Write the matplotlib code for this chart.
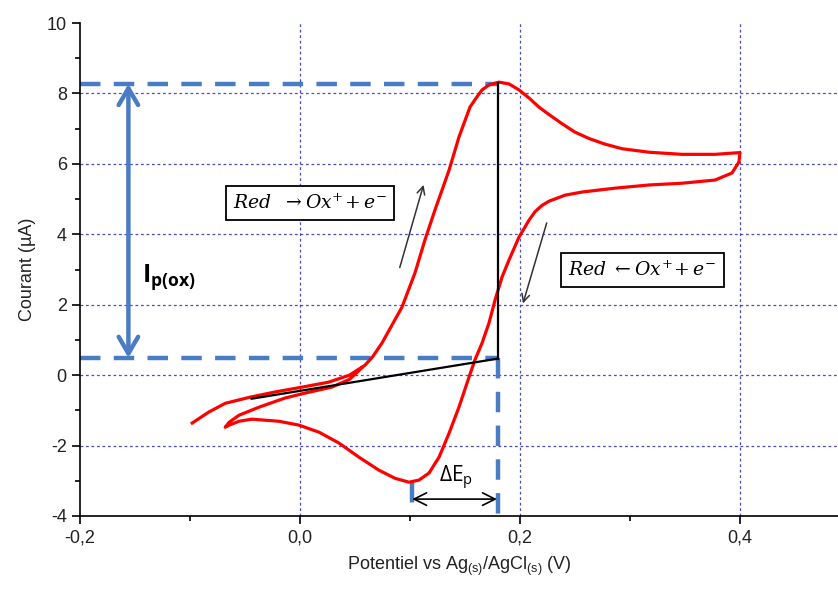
import matplotlib
matplotlib.use("Agg")
import matplotlib.pyplot as plt
from matplotlib.ticker import FixedLocator, FuncFormatter

# Global settings
plt.rcParams['font.family'] = ['Liberation Sans', 'DejaVu Sans']
plt.rcParams['axes.unicode_minus'] = False
plt.rcParams['mathtext.fontset'] = 'custom'
plt.rcParams['mathtext.rm'] = 'Open Sans'
plt.rcParams['mathtext.bf'] = 'Open Sans:bold'
plt.rcParams['mathtext.it'] = 'Open Sans:italic'

# Cyclic voltammogram (E in V, I in uA)
cv_E = [-0.098, -0.083, -0.068, -0.046, -0.023, 0.002, 0.026, 0.045, 0.059, 0.066,
        0.0745, 0.0927, 0.1045, 0.1136, 0.1227, 0.1355, 0.1445, 0.1545, 0.161,
        0.1655, 0.1718, 0.1809, 0.19, 0.1991, 0.2082, 0.2173, 0.2264, 0.2382,
        0.25, 0.2627, 0.2773, 0.2927, 0.3173, 0.3473, 0.3773, 0.400,
        0.399, 0.3927, 0.3773, 0.3473, 0.3173, 0.2864, 0.2564, 0.2409, 0.2264,
        0.22, 0.2136, 0.2082, 0.1991, 0.19, 0.1836, 0.1773, 0.1718, 0.1655, 0.159,
        0.1536, 0.1445, 0.1355, 0.1264, 0.1173, 0.1082, 0.0991, 0.0864, 0.0718,
        0.0536, 0.0355, 0.0173, -0.0009, -0.0191, -0.0436, -0.0555, -0.0645, -0.068,
        -0.0645, -0.0555, -0.0373, -0.0136, 0.0045, 0.029, 0.045, 0.056]
cv_I = [-1.36, -1.05, -0.80, -0.63, -0.48, -0.34, -0.20, 0.0, 0.28, 0.52,
        0.91, 1.93, 2.90, 3.84, 4.69, 5.82, 6.76, 7.61, 7.91,
        8.10, 8.24, 8.32, 8.27, 8.10, 7.87, 7.61, 7.40, 7.14,
        6.90, 6.72, 6.56, 6.43, 6.33, 6.27, 6.27, 6.32,
        6.05, 5.74, 5.54, 5.45, 5.40, 5.31, 5.20, 5.11, 4.94,
        4.82, 4.64, 4.40, 3.92, 3.27, 2.78, 2.13, 1.48, 0.91, 0.43,
        -0.06, -0.91, -1.65, -2.33, -2.78, -2.98, -3.04, -2.93, -2.70,
        -2.33, -1.93, -1.62, -1.42, -1.31, -1.25, -1.31, -1.42, -1.48,
        -1.34, -1.14, -0.91, -0.65, -0.51, -0.34, -0.12, 0.20]

# Construction values
E_pa = 0.18        # anodic peak potential
E_pc = 0.102       # cathodic peak potential
I_pa = 8.27        # anodic peak current
I_base = 0.49      # baseline value under the anodic peak
I_pc = -3.04
base_E = [-0.044, 0.18]
base_I = [-0.67, 0.47]

x_major = [-0.2, 0.0, 0.2, 0.4]
x_minor = [-0.1, 0.1, 0.3]
y_major = [-4, -2, 0, 2, 4, 6, 8, 10]
y_minor = [-3, -1, 1, 3, 5, 7, 9]

blue = '#4a7cc4'
grid_col = '#4a4acc'

fig = plt.figure(figsize=(8.38, 5.89), dpi=100)
ax = fig.add_axes([80 / 838, 73 / 589, 758 / 838, 493 / 589])
ax.set_xlim(-0.2, -0.2 + 758 / 1100)
ax.set_ylim(-4, 10)

# Dotted grid (none on the top edge)
for v in x_major:
    if v > -0.2:
        ax.axvline(v, color=grid_col, lw=0.9, dashes=(2.2, 2.2), zorder=0)
for v in y_major:
    if -4 < v < 10:
        ax.axhline(v, color=grid_col, lw=0.9, dashes=(2.2, 2.2), zorder=0)

# Blue construction lines
ax.plot([-0.2, E_pa], [I_pa, I_pa], color=blue, lw=3.2, dashes=(4.6, 3.0), zorder=2)
ax.plot([-0.2, E_pa], [I_base, I_base], color=blue, lw=3.2, dashes=(4.6, 3.0), zorder=2)
ax.plot([E_pa, E_pa], [I_base, -4], color=blue, lw=3.2, dashes=(4.6, 3.0), zorder=2)
ax.plot([E_pc, E_pc], [I_pc, -4], color=blue, lw=3.2, dashes=(4.6, 3.0), zorder=2)

ax.annotate('', xy=(-0.156, I_pa), xytext=(-0.156, I_base),
            arrowprops=dict(arrowstyle='<->,head_length=0.6,head_width=0.35',
                            color=blue, lw=3.2, mutation_scale=20,
                            shrinkA=0, shrinkB=0))
ax.text(-0.144, 2.64, r'$\mathbf{I_{p(ox)}}$', fontsize=18, ha='left', va='baseline')

# CV curve and baseline
ax.plot(cv_E, cv_I, color='#ff0000', lw=2.3, solid_joinstyle='round', zorder=3)
ax.plot(base_E, base_I, color='black', lw=1.6, zorder=4)
ax.plot([E_pa, E_pa], [base_I[1], 8.3], color='black', lw=1.6, zorder=4)

# Delta Ep
ax.annotate('', xy=(E_pc, -3.52), xytext=(0.179, -3.52),
            arrowprops=dict(arrowstyle='<->,head_length=0.6,head_width=0.3',
                            color='black', lw=1.2, mutation_scale=15,
                            shrinkA=0, shrinkB=0))
ax.text(0.126, -3.04, r'$\mathrm{\Delta E_p}$', fontsize=15, ha='left', va='baseline')

# Direction arrows
ax.annotate('', xy=(0.113, 5.48), xytext=(0.090, 2.98),
            arrowprops=dict(arrowstyle='->', color='#333333', lw=1.1, mutation_scale=14))
ax.annotate('', xy=(0.202, 1.96), xytext=(0.225, 4.40),
            arrowprops=dict(arrowstyle='->', color='#333333', lw=1.1, mutation_scale=14))

# Reaction boxes
box = dict(boxstyle='square,pad=0.4', fc='white', ec='black', lw=1.3)
ax.text(0.009, 4.89, r'$Red\ \ \rightarrow Ox^{+}\!+ e^{-}$', fontsize=13.5,
        ha='center', va='center', math_fontfamily='dejavuserif', bbox=box, zorder=5)
ax.text(0.311, 2.98, r'$Red\ \leftarrow Ox^{+}\!+ e^{-}$', fontsize=13.5,
        ha='center', va='center', math_fontfamily='dejavuserif', bbox=box, zorder=5)

# Axes styling
for s in ['top', 'right']:
    ax.spines[s].set_visible(False)
for s in ['left', 'bottom']:
    ax.spines[s].set_linewidth(1.2)
ax.xaxis.set_major_locator(FixedLocator(x_major))
ax.xaxis.set_minor_locator(FixedLocator(x_minor))
ax.yaxis.set_major_locator(FixedLocator(y_major))
ax.yaxis.set_minor_locator(FixedLocator(y_minor))
ax.xaxis.set_major_formatter(FuncFormatter(lambda v, p: f"{v:.1f}".replace('.', ',')))
ax.yaxis.set_major_formatter(FuncFormatter(lambda v, p: f"{v:.0f}"))
ax.tick_params(which='major', length=6, width=1.2, labelsize=13, colors='black',
               labelcolor='#222222')
ax.tick_params(which='minor', length=3.5, width=1.2)

ax.set_xlabel(r'Potentiel vs Ag$_{\mathregular{(s)}}$/AgCl$_{\mathregular{(s)}}$ (V)',
              fontsize=13, color='#222222', labelpad=6)
ax.set_ylabel('Courant (µA)', fontsize=13, color='#222222', labelpad=8)

fig.savefig('out.png', dpi=100)
